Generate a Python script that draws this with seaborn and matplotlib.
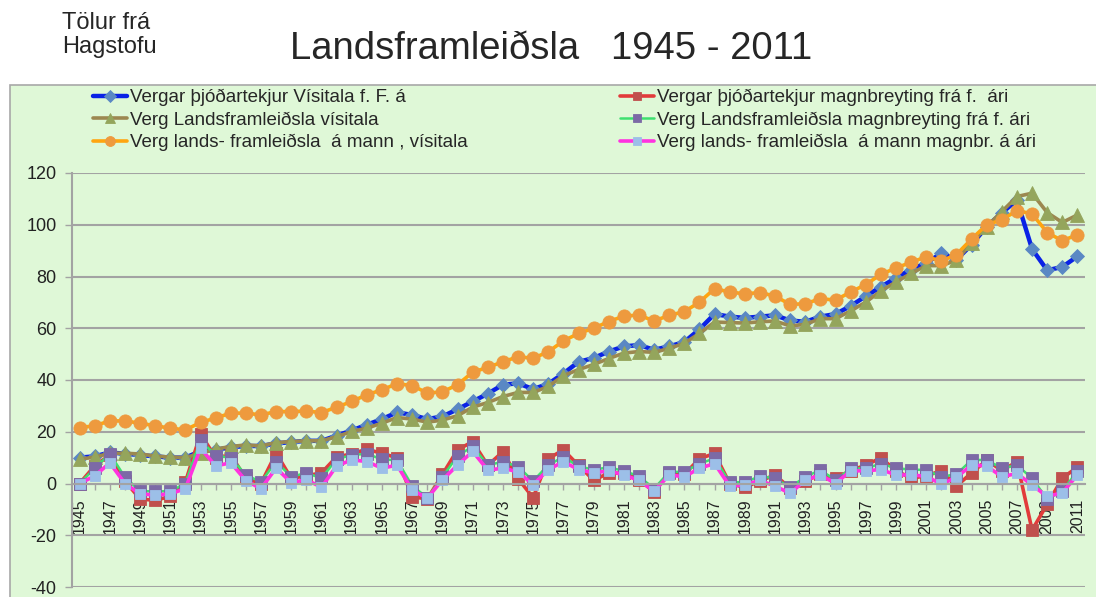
import pandas as pd
import seaborn as sns
import matplotlib.pyplot as plt
from matplotlib.patches import Rectangle

years = list(range(1945, 2012))

# Vergar þjóðartekjur, vísitala
income_index = [10, 10.5, 12, 11.5, 11, 10.5, 10, 10, 12.5,
                13, 14, 14.5, 14.5, 15.5, 16, 16.5, 16.5, 18.5, 20.5, 22.7,
                24.9, 27.5, 26.5, 24.9, 25.9, 28.7, 31.7, 34.7, 38.2, 38.7, 36.5, 38.5,
                42.5, 47, 48.5, 51, 53, 53.5, 51.7, 53, 54.7, 59.6, 65.5,
                64.5, 64, 64.5, 65, 63, 62.5, 64.5, 65.5, 68.6, 72.4, 76, 79.5,
                82.7, 85.2, 89, 86.5, 92.3, 99.3, 104.6, 109.5, 90.6, 82.4, 83.7, 87.8]
# Vergar þjóðartekjur, magnbreyting
income_change = [0, 6.8, 11, 1, -6, -6.5, -5, 0.5, 19.2,
                 10, 11, 2, 0, 11.7, 2, 3, 4.1, 10.3, 11.4, 13.3,
                 11.6, 10, -5.1, -6, 3.5, 13, 16.2, 7, 12.3, 1.9, -5.5, 9.6,
                 13, 7, 1.3, 4, 4, 1.5, -3.2, 4, 3.5, 9.6, 11.6,
                 0, -1.5, 1, 3.3, -1.9, 1, 3.5, 2, 5, 7.1, 9.9, 5,
                 2, 3, 4.9, -1, 4.1, 9, 5, 8.4, -18, -8, 2, 6.4]
# Verg landsframleiðsla, vísitala
gdp_index = [9.4, 10.2, 11.7, 11.7, 11.4, 10.6, 10.2, 10.0, 11.7,
             13.3, 14.3, 14.9, 14.5, 15.8, 16.2, 16.5, 16.5, 18.1, 20.1, 21.4,
             23.3, 25.5, 24.9, 23.7, 24.5, 26.2, 29.5, 31.3, 33.6, 35.2, 35.2, 37.5,
             41.7, 44, 46, 48.3, 50.4, 51, 50.7, 52.2, 54.2, 58, 62.4,
             62.2, 62, 62.5, 62.8, 60.9, 61.5, 63.7, 63.7, 66.7, 70.1, 74.4, 77.9,
             81.2, 84.2, 84.2, 86.3, 93, 99.3, 105.1, 110.9, 112.2, 104.7, 100.9, 103.8]
# Verg landsframleiðsla, magnbreyting
gdp_change = [0, 5.9, 11.5, 2.5, -3, -3, -3, 0, 16.9,
              10.7, 10, 3.3, 0.6, 8.5, 2.6, 4.1, 2, 9.4, 11, 11.5,
              9.3, 9, -0.9, -5.5, 2.5, 10.7, 14.3, 7.1, 8.4, 6.5, 1, 7.1,
              10.3, 6.6, 5.4, 6.2, 4.9, 2.8, -2, 4.5, 4.5, 7.7, 9.7,
              0.5, 0.5, 2.8, 2, -1.5, 2.6, 5.2, 1.3, 5.8, 5.8, 7.7, 5.9,
              5.4, 5.2, 2.6, 3.6, 9.1, 9.1, 5.9, 7.1, 2, -6, -3, 4.9]
# Verg landsframleiðsla á mann, vísitala
capita_index = [21.6, 22.3, 24.2, 24.2, 23.3, 22.3, 21.4, 20.7, 23.6,
                25.3, 27.2, 27.2, 26.5, 27.8, 27.8, 28, 27.4, 29.5, 31.7, 34.3,
                36.2, 38.6, 37.8, 35, 35.4, 38.2, 43, 44.9, 47, 49, 48.4, 50.9,
                55.1, 58, 60, 62.6, 64.7, 65.1, 62.8, 65, 66.4, 70.1, 75.3,
                74, 73.3, 73.8, 72.4, 69.2, 69.5, 71.4, 70.9, 74, 76.9, 80.8, 83.3,
                85.5, 87.6, 86, 88.5, 94.5, 100, 101.9, 105.5, 104.2, 97, 93.8, 96.2]
# Verg landsframleiðsla á mann, magnbreyting
capita_change = [0, 2.9, 8, 0, -4, -4.5, -4, -2, 13.6,
                 6.8, 8, 1.1, -2, 6, 0.3, 1.5, -1.5, 6.8, 9.1, 8.5,
                 5.9, 7.1, -2.5, -5.7, 1.4, 7.1, 12.4, 5.2, 5.9, 4.5, -0.5, 5.4,
                 8.4, 5.4, 4.1, 4.9, 3.3, 1.2, -3, 3.3, 2.6, 5.9, 7.7,
                 -1, -0.5, 1.2, -1, -3.8, 1.3, 3.3, 0, 4.9, 4.9, 5.4, 3.3,
                 3.3, 2.8, -0.3, 2.4, 7.1, 6.8, 2.6, 3.9, -0.6, -5, -3.6, 3.3]

series_names = ["Vergar þjóðartekjur Vísitala f. F. á",
                "Vergar þjóðartekjur magnbreyting frá f.  ári",
                "Verg Landsframleiðsla vísitala",
                "Verg Landsframleiðsla magnbreyting frá f. ári",
                "Verg lands- framleiðsla  á mann , vísitala",
                "Verg lands- framleiðsla  á mann magnbr. á ári"]

title = "Landsframleiðsla   1945 - 2011"
source = "Tölur frá\nHagstofu"

bg = '#dff8d7'
grid_col = '#a3a3a3'

sns.set_theme(style="white")
plt.rcParams['font.family'] = ['Liberation Sans', 'DejaVu Sans']
plt.rcParams['axes.unicode_minus'] = False

df = pd.DataFrame({'Year': years})
for name, vals in zip(series_names, [income_index, income_change, gdp_index,
                                     gdp_change, capita_index, capita_change]):
    df[name] = vals

styles = [
    dict(color='#0a22e6', lw=3.2, marker='D', ms=7.5, mfc='#5a88c4', mec='#5a88c4'),
    dict(color='#e23b3b', lw=2.6, marker='s', ms=8.5, mfc='#c0504d', mec='#c0504d'),
    dict(color='#9c8850', lw=2.6, marker='^', ms=9.5, mfc='#94a55c', mec='#94a55c'),
    dict(color='#3ee070', lw=1.8, marker='s', ms=8, mfc='#7c6aa6', mec='#7c6aa6'),
    dict(color='#ffa510', lw=2.6, marker='o', ms=9.5, mfc='#ee9a3e', mec='#ee9a3e'),
    dict(color='#ff33e0', lw=2.6, marker='s', ms=7.5, mfc='#9cbfe8', mec='#9cbfe8'),
]

fig = plt.figure(figsize=(10.96, 5.97), dpi=100)
fig.patches.append(Rectangle((10 / 1096, -0.01), 1.0, (597 - 85) / 597 + 0.01,
                             transform=fig.transFigure, facecolor=bg,
                             edgecolor='#a8a8a8', lw=1.2, zorder=-10))

ax = fig.add_axes([72 / 1096, 1 - 587 / 597, (1085 - 72) / 1096, (587 - 173) / 597])
ax.set_facecolor('none')
ax.set_zorder(5)

handles = []
for name, st in zip(series_names, styles):
    sns.lineplot(data=df, x='Year', y=name, ax=ax, legend=False, label=name,
                 color=st['color'], linewidth=st['lw'], marker=st['marker'],
                 markersize=st['ms'], markerfacecolor=st['mfc'],
                 markeredgecolor=st['mec'], markeredgewidth=0.6)
    handles.append(ax.lines[-1])

ax.set_xlim(1944.5, 2011.5)
ax.set_ylim(-40, 120)
ax.set_yticks(range(-40, 121, 20))
ax.set_xticks(years)
ax.set_xticklabels([str(y) if (y - 1945) % 2 == 0 else '' for y in years])
ax.set_xlabel('')
ax.set_ylabel('')

ax.spines['bottom'].set_position(('data', 0))
for s in ['top', 'right']:
    ax.spines[s].set_visible(False)
for s in ['bottom', 'left']:
    ax.spines[s].set_color(grid_col)
    ax.spines[s].set_linewidth(1.5)
ax.grid(axis='y', color=grid_col, lw=1.5)
ax.grid(axis='x', visible=False)
ax.set_axisbelow(True)
ax.tick_params(axis='x', bottom=True, direction='out', length=4, width=1,
               color=grid_col, pad=7, labelcolor='#222222', labelrotation=90,
               labelsize=11.5)
ax.tick_params(axis='y', left=True, direction='out', length=5, width=1,
               color=grid_col, pad=6, labelsize=13, labelcolor='#222222')

leg_kw = dict(loc='upper left', frameon=False, fontsize=13.5, handlelength=1.8,
              handletextpad=0.15, labelspacing=0.28, borderpad=0, borderaxespad=0,
              markerscale=0.75)
fig.legend(handles=[handles[0], handles[2], handles[4]],
           labels=[series_names[0], series_names[2], series_names[4]],
           bbox_to_anchor=(93 / 1096, 1 - 89 / 597), **leg_kw)
fig.legend(handles=[handles[1], handles[3], handles[5]],
           labels=[series_names[1], series_names[3], series_names[5]],
           bbox_to_anchor=(620 / 1096, 1 - 89 / 597), **leg_kw)

fig.text(290 / 1096, 1 - 49 / 597, title, fontsize=27.5, va='center', ha='left')
fig.text(62 / 1096, 1 - 35 / 597, source, fontsize=17, va='center', ha='left',
         linespacing=1.1)

fig.savefig('out.png', dpi=100, facecolor='white')
